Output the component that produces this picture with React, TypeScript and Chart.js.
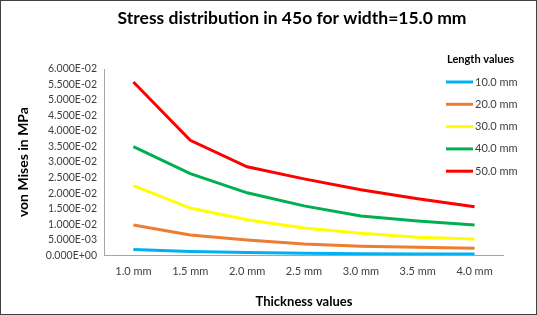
import React, { useEffect, useRef } from "react";
import { Chart, registerables } from "chart.js";

Chart.register(...registerables);

const categories = ["1.0 mm", "1.5 mm", "2.0 mm", "2.5 mm", "3.0 mm", "3.5 mm", "4.0 mm"];
const seriesNames = ["10.0 mm", "20.0 mm", "30.0 mm", "40.0 mm", "50.0 mm"];
const s10 = [0.0018, 0.0012, 0.0009, 0.0006, 0.0005, 0.0004, 0.0004];
const s20 = [0.0097, 0.0065, 0.0049, 0.0036, 0.0029, 0.0026, 0.0022];
const s30 = [0.0224, 0.0152, 0.0114, 0.0088, 0.0071, 0.0058, 0.0052];
const s40 = [0.035, 0.0263, 0.0201, 0.0159, 0.0126, 0.011, 0.0097];
const s50 = [0.0558, 0.037, 0.0285, 0.0246, 0.0211, 0.0182, 0.0156];
const colors = ["#00B0F0", "#ED7D31", "#FFFF00", "#00B050", "#FF0000"];
const chartTitle = "Stress distribution in 45o for width=15.0 mm";
const legendTitle = "Length values";

const FONT = "Lato, 'Open Sans', sans-serif";

function fmt(v: number): string {
  if (Math.abs(v) < 1e-12) return "0.000E+00";
  const s = v.toExponential(3);
  const [m, e] = s.split("e");
  const n = parseInt(e, 10);
  const sign = n < 0 ? "-" : "+";
  const a = Math.abs(n);
  return m + "E" + sign + (a < 10 ? "0" + a : String(a));
}

const decorPlugin = {
  id: "decor",
  afterDraw(chart: any) {
    const ctx = chart.ctx;
    ctx.save();
    ctx.fillStyle = "#000";
    ctx.textAlign = "center";
    ctx.textBaseline = "middle";
    ctx.font = `bold 17.5px ${FONT}`;
    ctx.fillText(chartTitle, 291, 17);
    // legend
    ctx.textAlign = "left";
    ctx.font = `bold 11px ${FONT}`;
    ctx.fillText(legendTitle, 446, 58);
    ctx.font = `11px ${FONT}`;
    chart.data.datasets.forEach((ds: any, i: number) => {
      const y = 81 + i * 22.3;
      ctx.strokeStyle = ds.borderColor;
      ctx.lineWidth = 3;
      ctx.beginPath();
      ctx.moveTo(445, y);
      ctx.lineTo(472, y);
      ctx.stroke();
      ctx.fillStyle = "#404040";
      ctx.fillText(ds.label, 474, y);
    });
    ctx.restore();
  },
};

export default function App() {
  const ref = useRef<HTMLCanvasElement | null>(null);
  useEffect(() => {
    document.body.style.margin = "0";
    const data = [s10, s20, s30, s40, s50];
    const chart = new Chart(ref.current!, {
      type: "line",
      data: {
        labels: categories,
        datasets: seriesNames.map((n, i) => ({
          label: n,
          data: data[i],
          borderColor: colors[i],
          backgroundColor: colors[i],
          borderWidth: 3,
          pointRadius: 0,
          tension: 0,
        })),
      },
      plugins: [decorPlugin],
      options: {
        animation: false,
        responsive: false,
        layout: { padding: { left: 14, right: 33, top: 68, bottom: 4 } },
        plugins: {
          title: { display: false },
          legend: { display: false },
          tooltip: { enabled: false },
        },
        scales: {
          x: {
            offset: true,
            grid: { display: false, drawTicks: false },
            border: { display: true, color: "#A6A6A6" },
            ticks: { font: { family: FONT, size: 11 }, color: "#404040", padding: 10, maxRotation: 0, autoSkip: false },
            title: {
              display: true,
              text: "Thickness values",
              font: { family: FONT, size: 13, weight: "bold" },
              color: "#000",
              padding: { top: 6, bottom: 0 },
            },
          },
          y: {
            min: 0,
            max: 0.06,
            grid: { display: false, drawTicks: false },
            border: { display: true, color: "#A6A6A6" },
            ticks: {
              stepSize: 0.005,
              autoSkip: false,
              font: { family: FONT, size: 10.5 },
              color: "#404040",
              padding: 8,
              callback: (v: any) => fmt(Number(v)),
            },
            title: {
              display: true,
              text: "von Mises in MPa",
              font: { family: FONT, size: 14, weight: "bold" },
              color: "#000",
              padding: { top: 0, bottom: 6 },
            },
          },
        },
      },
    });
    return () => chart.destroy();
  }, []);
  return (
    <div style={{ width: 537, height: 315, boxSizing: "border-box", border: "1px solid #404040", background: "#fff" }}>
      <canvas ref={ref} width={535} height={313} />
    </div>
  );
}
